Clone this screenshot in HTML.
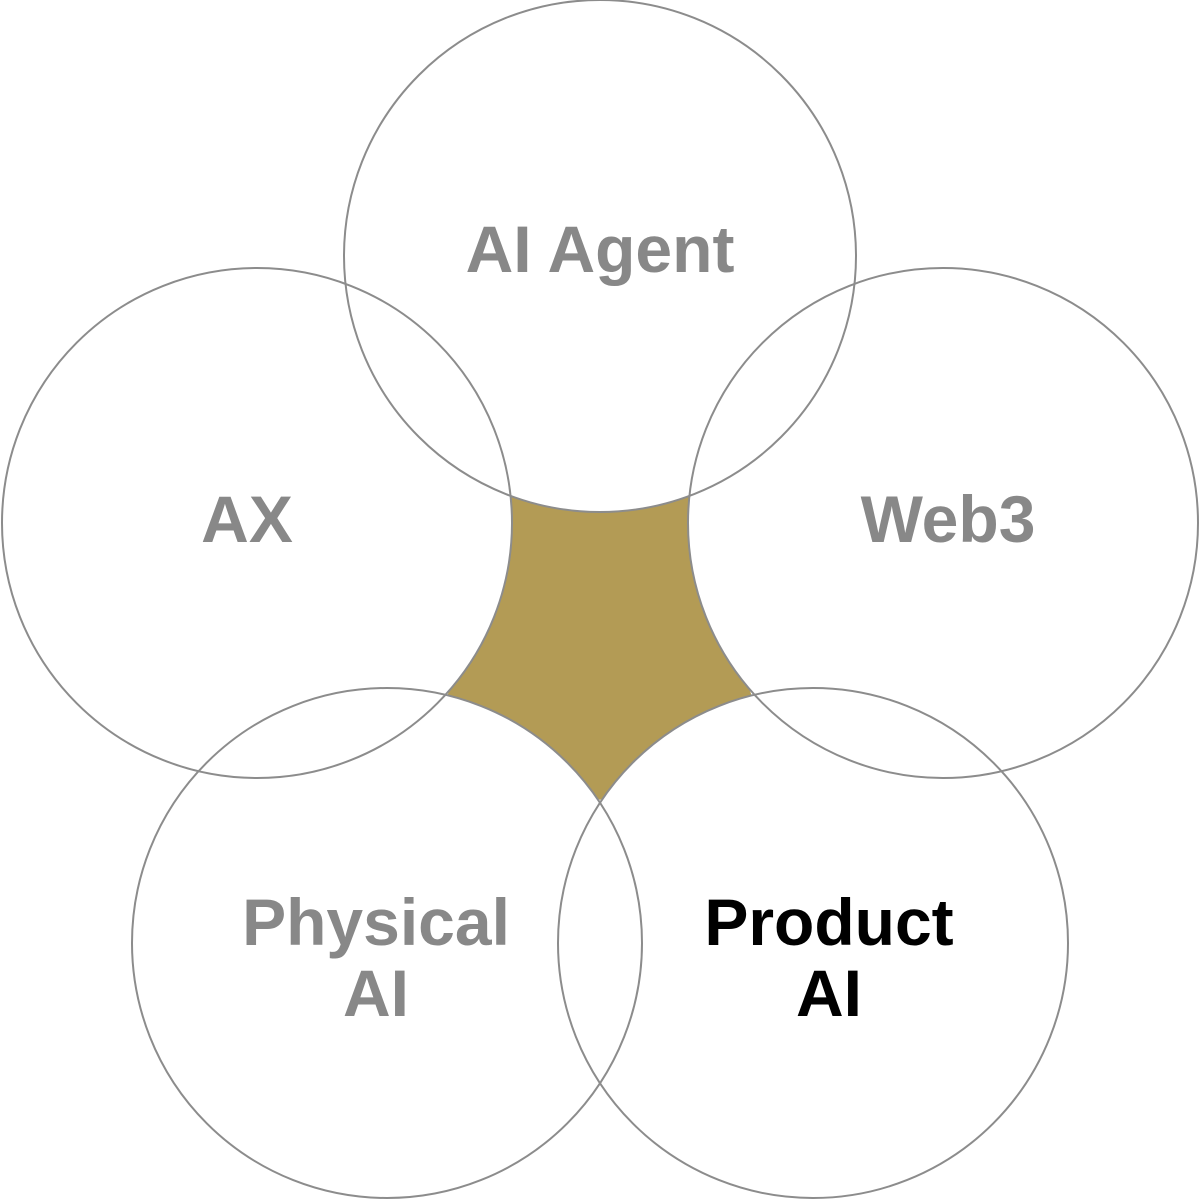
<!DOCTYPE html>
<html><head><style>
html,body{margin:0;padding:0;background:#fff;}
svg{display:block;}
text{font-family:"Liberation Sans",sans-serif;font-weight:bold;text-anchor:middle;}
</style></head><body>
<svg width="1200" height="1200" viewBox="0 0 1200 1200">
<polygon points="511,497 689,497 752,697 600,800 447,697" fill="#b39b55"/>
<g fill="#fff" stroke="none">
<circle cx="600" cy="256" r="256"/>
<circle cx="257" cy="523" r="255"/>
<circle cx="943" cy="523" r="255"/>
<circle cx="387" cy="943" r="255"/>
<circle cx="813" cy="943" r="255"/>
</g>
<g fill="none" stroke="#8c8c8c" stroke-width="2">
<circle cx="600" cy="256" r="256"/>
<circle cx="257" cy="523" r="255"/>
<circle cx="943" cy="523" r="255"/>
<circle cx="387" cy="943" r="255"/>
<circle cx="813" cy="943" r="255"/>
</g>
<g fill="#888" font-size="66">
<text x="600" y="272">AI Agent</text>
<text x="247" y="542">AX</text>
<text x="948" y="542">Web3</text>
<text x="376" y="945">Physical</text>
<text x="376" y="1016">AI</text>
</g>
<g fill="#000" font-size="66">
<text x="829" y="945">Product</text>
<text x="829" y="1016">AI</text>
</g>
</svg>
</body></html>
